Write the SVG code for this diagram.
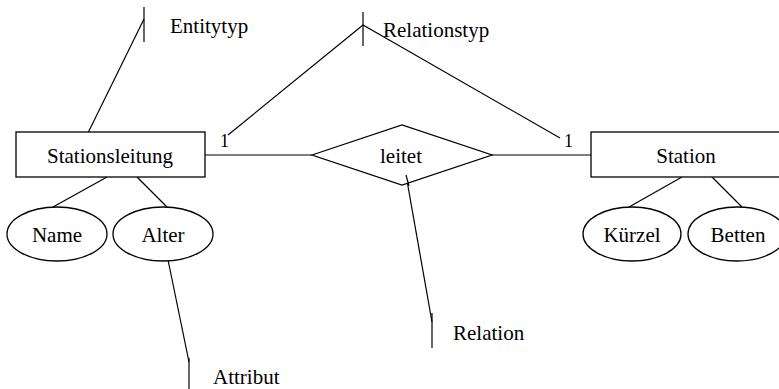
<svg xmlns="http://www.w3.org/2000/svg" width="779" height="389" viewBox="0 0 779 389">
<style>
.s{fill:#fff;stroke:#000;stroke-width:1.3}
.l{fill:none;stroke:#000;stroke-width:1.2}
text{font-family:"Liberation Serif","Times New Roman",serif;font-size:21px;fill:#000}
.c{text-anchor:middle}
</style>
<rect width="779" height="389" fill="#fff"/>
<g id="connectors">
<line class="l" x1="205" y1="155" x2="312" y2="155"/>
<line class="l" x1="492" y1="155" x2="591" y2="155"/>
<line class="l" x1="107" y1="177" x2="53" y2="207"/>
<line class="l" x1="137" y1="177" x2="167" y2="207"/>
<line class="l" x1="682" y1="177" x2="629" y2="207"/>
<line class="l" x1="712" y1="177" x2="742" y2="207"/>
</g>
<g id="annotations">
<polyline class="l" points="85,139 144,19"/>
<line class="l" x1="144" y1="7" x2="144" y2="42"/>
<polyline class="l" points="228,135 363,25 560,138"/>
<line class="l" x1="363" y1="12" x2="363" y2="46"/>
<polyline class="l" points="406,175 432,322"/>
<line class="l" x1="432" y1="313" x2="432" y2="348"/>
<polyline class="l" points="167,255 189,362"/>
<line class="l" x1="189" y1="358" x2="189" y2="392"/>
<text x="170" y="33">Entitytyp</text>
<text x="383" y="37">Relationstyp</text>
<text x="453" y="340">Relation</text>
<text x="213" y="384">Attribut</text>
<text x="220" y="147" style="font-size:18px">1</text>
<text x="564" y="147" style="font-size:18px">1</text>
</g>
<g id="stationsleitung">
<rect class="s" x="16" y="132" width="189" height="45"/>
<text class="c" x="110" y="163">Stationsleitung</text>
</g>
<g id="leitet">
<polygon class="s" points="312,155 402,125 492,155 402,185"/>
<text class="c" x="401" y="163">leitet</text>
</g>
<g id="station">
<rect class="s" x="591" y="132" width="189" height="45"/>
<text class="c" x="686" y="163">Station</text>
</g>
<g id="name">
<ellipse class="s" cx="57" cy="234" rx="50" ry="27"/>
<text class="c" x="57" y="242">Name</text>
</g>
<g id="alter">
<ellipse class="s" cx="163" cy="234" rx="50" ry="27"/>
<text class="c" x="163" y="242">Alter</text>
</g>
<g id="kuerzel">
<ellipse class="s" cx="632" cy="234" rx="49" ry="27"/>
<text class="c" x="632" y="242">Kürzel</text>
</g>
<g id="betten">
<ellipse class="s" cx="737" cy="234" rx="49" ry="27"/>
<text class="c" x="738" y="242">Betten</text>
</g>
<line class="l" x1="406" y1="175" x2="409" y2="186"/>
</svg>
